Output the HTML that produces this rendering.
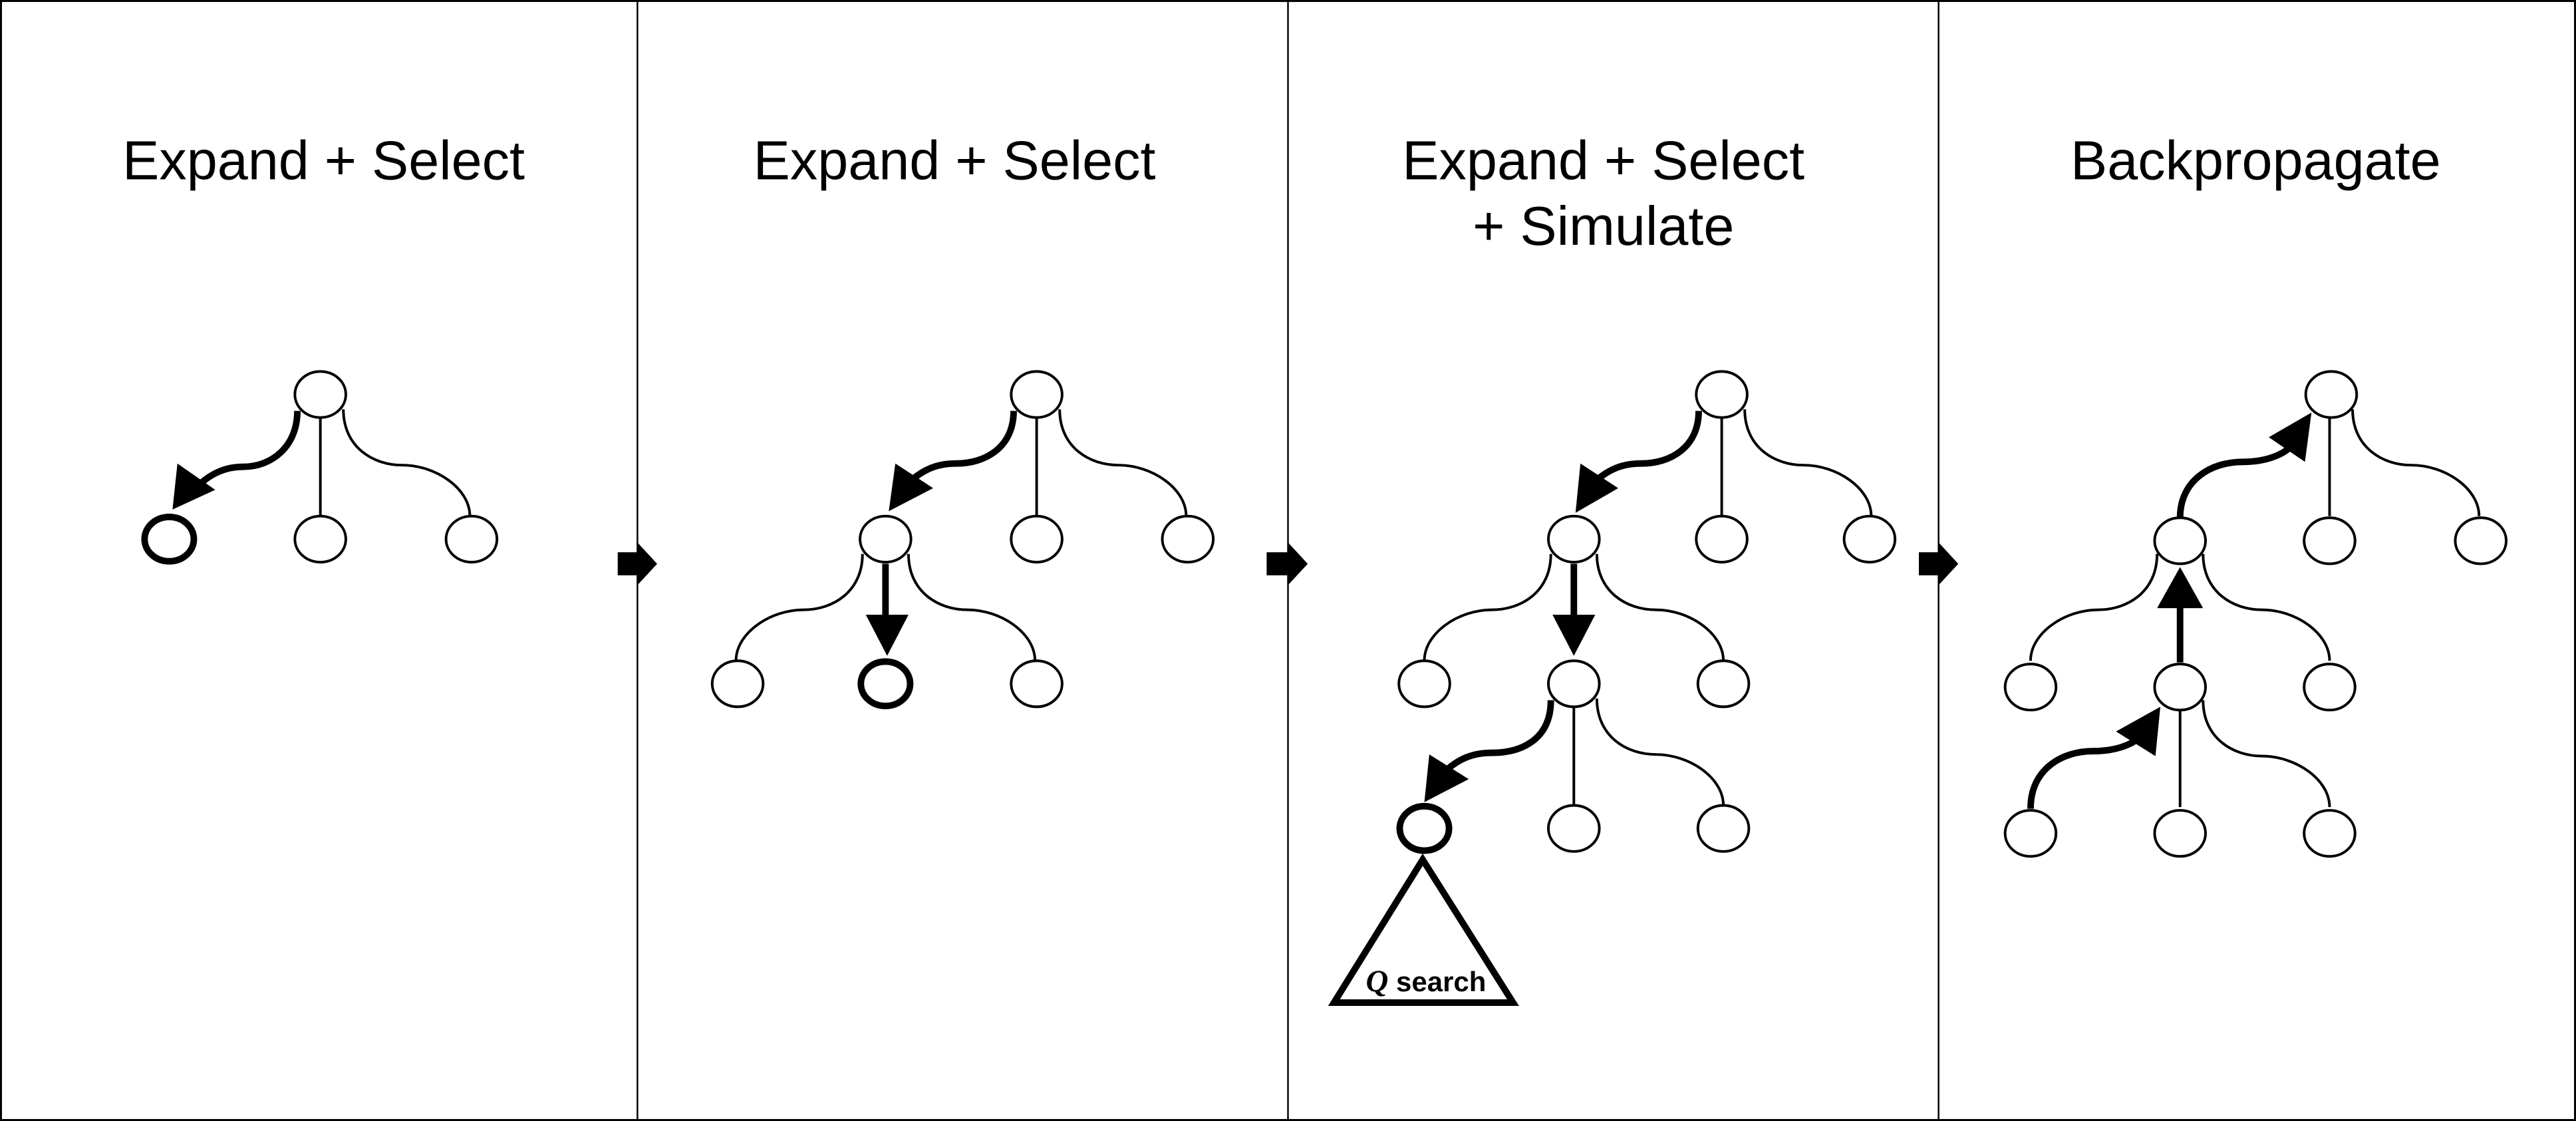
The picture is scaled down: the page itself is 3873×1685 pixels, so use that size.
<!DOCTYPE html>
<html><head><meta charset="utf-8"><style>
html,body{margin:0;padding:0;background:#fff;}
svg{display:block;}
</style></head><body>
<svg width="3873" height="1685" viewBox="0 0 1568 682" preserveAspectRatio="none" xmlns="http://www.w3.org/2000/svg">
<defs>
<g id="conn" fill="none" stroke="#000" stroke-width="1.6">
<path id="cl" d="M-14,9 C-14,32 -32,43 -50,43 C-70,43 -91,57 -91,74"/>
<path id="cm" d="M0,14 L0,74"/>
<path id="cr" d="M14,9 C14,32 32,43 50,43 C70,43 91,57 91,74"/>
</g>
</defs>
<rect x="0.6" y="0.6" width="1566.8" height="680.8" fill="#fff" stroke="#000" stroke-width="1.2"/>
<line x1="388" y1="0" x2="388" y2="682" stroke="#000" stroke-width="1"/>
<line x1="784" y1="0" x2="784" y2="682" stroke="#000" stroke-width="1"/>
<line x1="1180" y1="0" x2="1180" y2="682" stroke="#000" stroke-width="1"/>

<g font-family="Liberation Sans, sans-serif" font-size="33.5" text-anchor="middle" fill="#000">
<text x="197" y="109">Expand + Select</text>
<text x="581" y="109">Expand + Select</text>
<text x="976" y="109">Expand + Select</text>
<text x="976" y="149">+ Simulate</text>
<text x="1373" y="109">Backpropagate</text>
</g>

<!-- transition arrows -->
<g fill="#000">
<polygon points="376,336 388,336 388,330 400,343 388,356 388,350 376,350"/>
<polygon points="771,336 784,336 784,330 796,343 784,356 784,350 771,350"/>
<polygon points="1168,336 1180,336 1180,330 1192,343 1180,356 1180,350 1168,350"/>
</g>

<g fill="#fff" stroke="#000" stroke-width="1.6">
<g transform="translate(195,240)"><use href="#cm"/><use href="#cr"/></g>
<g transform="translate(631,240)"><use href="#cm"/><use href="#cr"/></g>
<g transform="translate(539,328)"><use href="#cl"/><use href="#cr"/></g>
<g transform="translate(1048,240)"><use href="#cm"/><use href="#cr"/></g>
<g transform="translate(958,328)"><use href="#cl"/><use href="#cr"/></g>
<g transform="translate(958,416)"><use href="#cm"/><use href="#cr"/></g>
<g transform="translate(1418,240)"><use href="#cm"/><use href="#cr"/></g>
<g transform="translate(1327,328)"><use href="#cl"/><use href="#cr"/></g>
<g transform="translate(1327,417)"><use href="#cm"/><use href="#cr"/></g>
</g>

<!-- bold arrows -->
<g fill="none" stroke="#000" stroke-width="4">
<path d="M181,250 C181,272 165,284 148,284 C136,284 127,289 119,297"/>
<path d="M617,250 C617,272 600,282 582,282 C570,282 562,286 555,292"/>
<path d="M539,343 L539,378"/>
<path d="M1034,250 C1034,272 1017,282 999,282 C987,282 979,286 972,292"/>
<path d="M958,343 L958,378"/>
<path d="M944,426 C944,450 926,458 908,458 C896,458 888,462 881,468"/>
<path d="M1236,492 C1236,468 1255,457 1274,457 C1288,457 1297,453 1302,449"/>
<path d="M1327,403 L1327,366"/>
<path d="M1327,315 C1327,292 1346,281 1365,281 C1379,281 1388,277 1393,273"/>
</g>
<g fill="#000">
<polygon points="108,282 131,298 105,310"/>
<polygon points="545,282 568,297 541,311"/>
<polygon points="962,282 985,297 959,312"/>
<polygon points="527,374 553,374 540,399"/>
<polygon points="945,374 971,374 958,399"/>
<polygon points="870,459 894,474 867,488"/>
<polygon points="1288,445 1312,460 1315,430"/>
<polygon points="1313,370 1341,370 1327,345"/>
<polygon points="1381,266 1403,281 1407,251"/>
</g>

<!-- nodes -->
<g fill="#fff" stroke="#000" stroke-width="1.6">
<ellipse cx="195" cy="240" rx="15.5" ry="14"/>
<ellipse cx="195" cy="328" rx="15.5" ry="14"/>
<ellipse cx="287" cy="328" rx="15.5" ry="14"/>

<ellipse cx="631" cy="240" rx="15.5" ry="14"/>
<ellipse cx="539" cy="328" rx="15.5" ry="14"/>
<ellipse cx="631" cy="328" rx="15.5" ry="14"/>
<ellipse cx="723" cy="328" rx="15.5" ry="14"/>
<ellipse cx="449" cy="416" rx="15.5" ry="14"/>
<ellipse cx="631" cy="416" rx="15.5" ry="14"/>

<ellipse cx="1048" cy="240" rx="15.5" ry="14"/>
<ellipse cx="958" cy="328" rx="15.5" ry="14"/>
<ellipse cx="1048" cy="328" rx="15.5" ry="14"/>
<ellipse cx="1138" cy="328" rx="15.5" ry="14"/>
<ellipse cx="867" cy="416" rx="15.5" ry="14"/>
<ellipse cx="958" cy="416" rx="15.5" ry="14"/>
<ellipse cx="1049" cy="416" rx="15.5" ry="14"/>
<ellipse cx="958" cy="504" rx="15.5" ry="14"/>
<ellipse cx="1049" cy="504" rx="15.5" ry="14"/>

<ellipse cx="1419" cy="240" rx="15.5" ry="14"/>
<ellipse cx="1327" cy="329" rx="15.5" ry="14"/>
<ellipse cx="1418" cy="329" rx="15.5" ry="14"/>
<ellipse cx="1510" cy="329" rx="15.5" ry="14"/>
<ellipse cx="1236" cy="418" rx="15.5" ry="14"/>
<ellipse cx="1327" cy="418" rx="15.5" ry="14"/>
<ellipse cx="1418" cy="418" rx="15.5" ry="14"/>
<ellipse cx="1236" cy="507" rx="15.5" ry="14"/>
<ellipse cx="1327" cy="507" rx="15.5" ry="14"/>
<ellipse cx="1418" cy="507" rx="15.5" ry="14"/>
</g>
<g fill="#fff" stroke="#000" stroke-width="4">
<ellipse cx="103" cy="328" rx="15" ry="13.5"/>
<ellipse cx="539" cy="416" rx="15" ry="13.5"/>
<ellipse cx="867" cy="504" rx="15" ry="13.5"/>
</g>

<!-- Q search triangle -->
<polygon points="866,523 812,610 921,610" fill="#fff" stroke="#000" stroke-width="4" stroke-linejoin="miter"/>
<text x="868" y="603" font-family="Liberation Sans, sans-serif" font-size="17" font-weight="bold" text-anchor="middle"><tspan font-family="Liberation Serif, serif" font-style="italic" font-size="19">Q</tspan> search</text>
</svg>
</body></html>
